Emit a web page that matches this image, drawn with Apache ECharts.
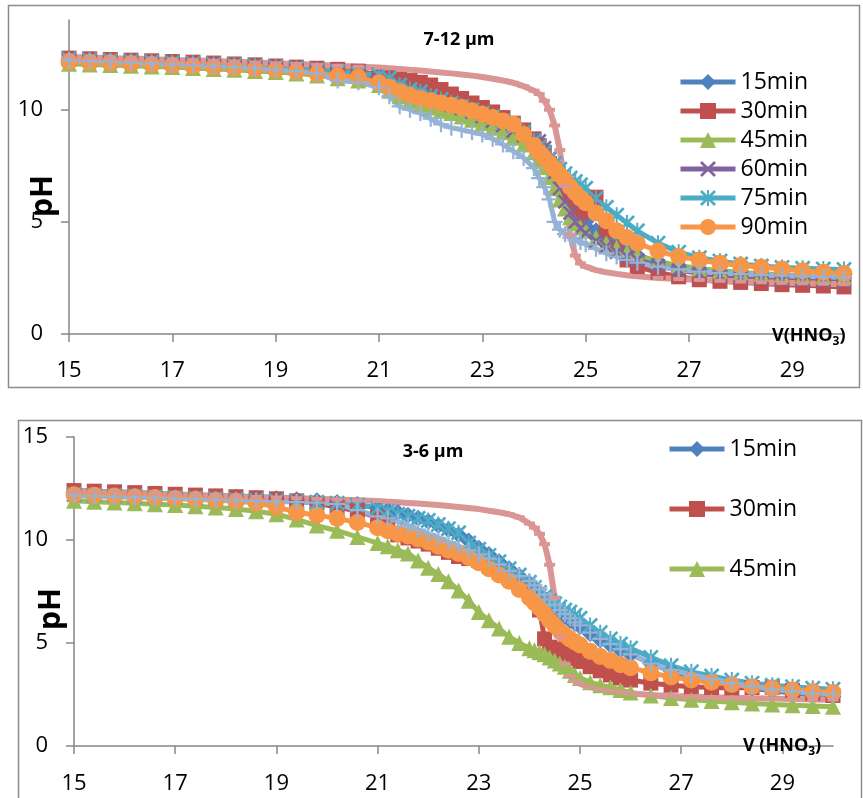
<!DOCTYPE html>
<html>
<head>
<meta charset="utf-8">
<script src="https://cdn.jsdelivr.net/npm/echarts@6.0.0/dist/echarts.min.js"></script>
<style>
  html, body { margin: 0; padding: 0; background: #fff; }
  #chart { width: 863px; height: 798px; }
</style>
</head>
<body>
<div id="chart"></div>
<script>
// Titrant volume (mL HNO3), shared by both panels
const volume = [
  15.0, 15.4, 15.8, 16.2, 16.6, 17.0, 17.4, 17.8, 18.2, 18.6, 19.0, 19.4, 19.8, 20.2, 20.6,
  21.0, 21.2, 21.4, 21.6, 21.8, 22.0, 22.2, 22.4, 22.6, 22.8, 23.0, 23.2, 23.4, 23.6, 23.8, 24.0,
  24.1, 24.2, 24.3, 24.4, 24.5, 24.6, 24.7, 24.8, 24.9, 25.0,
  25.2, 25.4, 25.6, 25.8, 26.0,
  26.4, 26.8, 27.2, 27.6, 28.0, 28.4, 28.8, 29.2, 29.6, 30.0
];

const xTicks = [15, 17, 19, 21, 23, 25, 27, 29];
const yTicksTop = [0, 5, 10];
const yTicksBottom = [0, 5, 10, 15];

// ---- 7-12 µm panel ----
const top15 = [
  12.25, 12.22, 12.19, 12.16, 12.12, 12.08, 12.05, 12.01, 11.97, 11.93, 11.88, 11.83, 11.76, 11.68, 11.60,
  11.45, 11.30, 11.10, 10.95, 10.80, 10.65, 10.50, 10.35, 10.20, 10.05, 9.90, 9.70, 9.50, 9.25, 8.95, 8.55,
  8.30, 8.00, 7.60, 7.15, 6.70, 6.30, 5.90, 5.55, 5.25, 5.00,
  4.60, 4.25, 3.95, 3.70, 3.50,
  3.20, 3.00, 2.87, 2.77, 2.70, 2.64, 2.60, 2.56, 2.53, 2.50
];
const top30 = [
  12.30, 12.27, 12.24, 12.21, 12.18, 12.15, 12.12, 12.08, 12.04, 12.00, 11.95, 11.90, 11.85, 11.80, 11.72,
  11.55, 11.45, 11.35, 11.30, 11.22, 11.10, 10.90, 10.70, 10.50, 10.30, 10.10, 9.90, 9.65, 9.40, 9.10, 8.70,
  8.40, 8.10, 7.60, 7.20, 6.70, 6.20, 5.60, 5.20, 5.40, 5.80,
  6.10, 4.60, 3.80, 3.30, 3.00,
  2.75, 2.55, 2.42, 2.35, 2.30, 2.25, 2.20, 2.17, 2.14, 2.10
];
const top45 = [
  12.05, 12.02, 11.99, 11.96, 11.93, 11.90, 11.86, 11.82, 11.78, 11.73, 11.68, 11.62, 11.52, 11.40, 11.30,
  11.10, 10.85, 10.60, 10.40, 10.25, 10.10, 9.95, 9.85, 9.70, 9.55, 9.40, 9.20, 9.00, 8.75, 8.45, 8.10,
  7.80, 7.45, 7.00, 6.50, 6.00, 5.60, 5.20, 4.95, 4.75, 4.60,
  4.30, 4.05, 3.85, 3.65, 3.50,
  3.25, 3.05, 2.92, 2.82, 2.75, 2.69, 2.64, 2.60, 2.56, 2.53
];
const top60 = [
  12.20, 12.17, 12.14, 12.11, 12.08, 12.05, 12.02, 11.98, 11.94, 11.90, 11.85, 11.80, 11.72, 11.62, 11.55,
  11.40, 11.20, 11.00, 10.80, 10.65, 10.50, 10.35, 10.20, 10.05, 9.90, 9.70, 9.50, 9.30, 9.05, 8.85, 8.70,
  8.60, 8.30, 7.80, 7.20, 6.50, 5.90, 5.40, 5.00, 4.70, 4.50,
  4.15, 3.90, 3.65, 3.45, 3.30,
  3.05, 2.85, 2.70, 2.60, 2.52, 2.46, 2.41, 2.37, 2.33, 2.30
];
const top75 = [
  12.25, 12.22, 12.19, 12.16, 12.13, 12.10, 12.07, 12.03, 11.99, 11.95, 11.90, 11.85, 11.78, 11.70, 11.62,
  11.55, 11.40, 11.10, 10.90, 10.80, 10.60, 10.45, 10.30, 10.15, 10.00, 9.85, 9.70, 9.50, 9.30, 9.00, 8.60,
  8.35, 8.10, 7.85, 7.60, 7.35, 7.15, 6.95, 6.80, 6.65, 6.50,
  6.05, 5.65, 5.30, 4.95, 4.60,
  4.05, 3.65, 3.40, 3.25, 3.12, 3.03, 2.97, 2.93, 2.90, 2.88
];
const top90 = [
  12.15, 12.12, 12.09, 12.06, 12.02, 11.98, 11.95, 11.91, 11.87, 11.82, 11.77, 11.70, 11.60, 11.50, 11.45,
  11.20, 11.00, 10.80, 10.65, 10.50, 10.40, 10.30, 10.20, 10.10, 9.95, 9.80, 9.65, 9.50, 9.35, 8.90, 8.40,
  8.10, 7.85, 7.60, 7.35, 7.10, 6.85, 6.55, 6.30, 6.05, 5.85,
  5.40, 5.05, 4.60, 4.30, 4.05,
  3.70, 3.45, 3.30, 3.15, 3.05, 2.98, 2.90, 2.82, 2.75, 2.70
];
const topSeries7 = [
  12.20, 12.17, 12.14, 12.10, 12.06, 12.02, 11.98, 11.94, 11.90, 11.84, 11.78, 11.72, 11.62, 11.30, 11.22,
  11.00, 10.60, 10.15, 10.00, 9.85, 9.60, 9.35, 9.20, 9.10, 9.00, 8.90, 8.70, 8.45, 8.15, 7.85, 7.40,
  6.95, 6.55, 6.00, 5.00, 4.65, 4.45, 4.30, 4.20, 4.10, 4.00,
  3.80, 3.60, 3.45, 3.30, 3.18,
  3.00, 2.88, 2.78, 2.72, 2.67, 2.63, 2.60, 2.57, 2.55, 2.53
];
const topSeries8 = [
  12.35, 12.33, 12.30, 12.28, 12.25, 12.22, 12.20, 12.17, 12.14, 12.10, 12.07, 12.04, 12.00, 11.96, 11.92,
  11.88, 11.85, 11.82, 11.78, 11.75, 11.70, 11.66, 11.62, 11.57, 11.52, 11.46, 11.38, 11.30, 11.20, 11.05, 10.85,
  10.70, 10.40, 10.00, 9.30, 8.20, 6.60, 4.40, 3.50, 3.15, 3.00,
  2.85, 2.75, 2.68, 2.62, 2.57,
  2.50, 2.45, 2.41, 2.37, 2.34, 2.31, 2.28, 2.26, 2.24, 2.22
];

// ---- 3-6 µm panel ----
const bot15 = [
  12.30, 12.27, 12.24, 12.21, 12.18, 12.15, 12.12, 12.09, 12.06, 12.03, 12.00, 11.95, 11.90, 11.82, 11.72,
  11.55, 11.45, 11.35, 11.20, 11.05, 10.90, 10.70, 10.50, 10.25, 9.95, 9.60, 9.30, 8.95, 8.60, 8.25, 7.90,
  7.65, 7.40, 7.15, 6.90, 6.70, 6.50, 6.30, 6.10, 5.95, 5.80,
  5.45, 5.15, 4.90, 4.65, 4.45,
  4.00, 3.65, 3.35, 3.15, 2.95, 2.80, 2.68, 2.57, 2.48, 2.40
];
const bot30 = [
  12.40, 12.37, 12.34, 12.30, 12.26, 12.22, 12.18, 12.14, 12.10, 12.05, 12.00, 11.90, 11.78, 11.60, 11.40,
  11.10, 10.80, 10.25, 10.10, 9.95, 9.80, 9.60, 9.40, 9.20, 9.10, 9.00, 8.75, 8.45, 8.20, 7.90, 7.50,
  7.20, 6.60, 5.20, 4.80, 4.70, 4.60, 4.50, 4.40, 4.25, 4.10,
  3.85, 3.65, 3.45, 3.30, 3.20,
  3.05, 2.95, 2.88, 2.84, 2.82, 2.84, 2.85, 2.70, 2.55, 2.45
];
const bot45 = [
  11.90, 11.86, 11.82, 11.78, 11.74, 11.70, 11.64, 11.58, 11.50, 11.40, 11.25, 11.00, 10.70, 10.45, 10.15,
  9.85, 9.70, 9.50, 9.35, 9.00, 8.65, 8.35, 8.00, 7.55, 7.05, 6.50, 6.10, 5.70, 5.30, 5.00, 4.75,
  4.65, 4.55, 4.45, 4.30, 4.15, 4.00, 3.85, 3.65, 3.45, 3.30,
  3.10, 2.95, 2.85, 2.72, 2.60,
  2.45, 2.33, 2.25, 2.18, 2.12, 2.06, 2.02, 1.98, 1.94, 1.90
];
const bot75 = [
  12.20, 12.18, 12.15, 12.12, 12.09, 12.06, 12.03, 12.00, 11.97, 11.94, 11.90, 11.87, 11.83, 11.78, 11.70,
  11.55, 11.40, 11.25, 11.15, 11.05, 10.95, 10.75, 10.55, 10.35, 9.85, 9.55, 9.25, 8.95, 8.60, 8.30, 7.95,
  7.70, 7.45, 7.25, 7.05, 6.90, 6.75, 6.60, 6.50, 6.35, 6.20,
  5.85, 5.50, 5.20, 4.95, 4.75,
  4.30, 3.90, 3.60, 3.40, 3.20, 3.05, 2.95, 2.88, 2.80, 2.75
];
const bot90 = [
  12.20, 12.17, 12.13, 12.10, 12.06, 12.02, 11.98, 11.93, 11.88, 11.80, 11.60, 11.35, 11.20, 11.05, 10.85,
  10.60, 10.45, 10.30, 10.20, 10.05, 9.90, 9.70, 9.50, 9.35, 9.15, 8.90, 8.60, 8.30, 8.00, 7.60, 7.20,
  6.95, 6.70, 6.40, 6.10, 5.85, 5.60, 5.40, 5.20, 5.05, 4.90,
  4.60, 4.35, 4.15, 3.95, 3.80,
  3.55, 3.35, 3.20, 3.10, 2.98, 2.88, 2.80, 2.72, 2.65, 2.60
];
const botSeries7 = [
  12.15, 12.13, 12.10, 12.07, 12.04, 12.01, 11.98, 11.95, 11.92, 11.90, 11.87, 11.84, 11.82, 11.75, 11.45,
  11.15, 11.05, 10.90, 10.70, 10.50, 10.30, 10.10, 9.90, 9.70, 9.50, 9.30, 9.10, 8.80, 8.50, 8.25, 8.00,
  7.80, 7.60, 7.35, 7.10, 6.85, 6.60, 6.40, 6.20, 6.00, 5.85,
  5.50, 5.20, 4.95, 4.70, 4.45,
  4.00, 3.70, 3.45, 3.25, 3.05, 2.90, 2.75, 2.65, 2.55, 2.50
];
const botSeries8 = [
  12.35, 12.33, 12.30, 12.27, 12.24, 12.21, 12.18, 12.15, 12.12, 12.09, 12.06, 12.03, 12.00, 11.97, 11.93,
  11.89, 11.86, 11.83, 11.80, 11.77, 11.73, 11.70, 11.65, 11.60, 11.55, 11.50, 11.42, 11.35, 11.25, 11.10, 10.80,
  10.60, 10.30, 9.80, 8.80, 7.20, 5.30, 4.00, 3.40, 3.15, 3.02,
  2.86, 2.75, 2.67, 2.61, 2.55,
  2.48, 2.43, 2.40, 2.37, 2.34, 2.32, 2.30, 2.28, 2.26, 2.25
];

// Marker shapes (filled outlines for x, *, + and - markers)
const SYM_X = 'path://M0,1.2L1.2,0L5,3.8L8.8,0L10,1.2L6.2,5L10,8.8L8.8,10L5,6.2L1.2,10L0,8.8L3.8,5Z';
const SYM_STAR = SYM_X + 'M4.4,0H5.6V10H4.4Z';
const SYM_PLUS = 'path://M4.3,0H5.7V4.3H10V5.7H5.7V10H4.3V5.7H0V4.3H4.3Z';
const SYM_DASH = 'path://M0,0H10V4H0Z';

const FONT = '"Open Sans", "Liberation Sans", sans-serif';

const styles = {
  '15min':   { color: '#4F81BD', symbol: 'diamond',  size: 17, width: 5 },
  '30min':   { color: '#C0504D', symbol: 'rect',     size: 15, width: 5 },
  '45min':   { color: '#9BBB59', symbol: 'triangle', size: 16, width: 5 },
  '60min':   { color: '#8064A2', symbol: SYM_X,      size: 15, width: 5 },
  '75min':   { color: '#4BACC6', symbol: SYM_STAR,   size: 16, width: 5 },
  '90min':   { color: '#F79646', symbol: 'circle',   size: 17, width: 5 },
  'Series7': { color: '#95B3D7', symbol: SYM_PLUS,   size: 16, width: 5 },
  'Series8': { color: '#D99694', symbol: SYM_DASH,   size: [11, 4], width: 6 }
};

function line(name, ys, gridIdx) {
  const s = styles[name];
  return {
    type: 'line',
    name: name,
    xAxisIndex: gridIdx,
    yAxisIndex: gridIdx,
    data: volume.map((v, i) => [v, ys[i]]),
    symbol: s.symbol,
    symbolSize: s.size,
    showSymbol: true,
    clip: false,
    lineStyle: { color: s.color, width: s.width },
    itemStyle: { color: s.color },
    emphasis: { disabled: true },
    animation: false
  };
}

function xAxisCfg(gridIdx, margin) {
  return {
    gridIndex: gridIdx, type: 'value', min: 15, max: 30, interval: 2,
    axisLine: { show: true, onZero: false, lineStyle: { color: '#868686', width: 1.5 } },
    axisTick: { show: true, length: 8, customValues: xTicks, lineStyle: { color: '#868686', width: 1.5 } },
    axisLabel: { customValues: xTicks, margin: margin, fontSize: 22, color: '#000', fontFamily: FONT },
    splitLine: { show: false }
  };
}

function yAxisCfg(gridIdx, max, ticks) {
  return {
    gridIndex: gridIdx, type: 'value', min: 0, max: max, interval: 5,
    axisLine: { show: true, lineStyle: { color: '#868686', width: 1.5 } },
    axisTick: { show: true, length: 8, customValues: ticks, lineStyle: { color: '#868686', width: 1.5 } },
    axisLabel: { customValues: ticks, margin: 26, fontSize: 22, color: '#000', fontFamily: FONT },
    splitLine: { show: false }
  };
}

const legendText = { fontSize: 23, color: '#000', fontFamily: FONT, lineHeight: 24 };

const chart = echarts.init(document.getElementById('chart'), null, { renderer: 'canvas' });
chart.setOption({
  animation: false,
  backgroundColor: '#fff',
  grid: [
    { left: 69, right: 19, top: 20, bottom: 464, outerBoundsMode: 'none', containLabel: false },
    { left: 74, right: 30, top: 437, bottom: 52, outerBoundsMode: 'none', containLabel: false }
  ],
  xAxis: [xAxisCfg(0, 26), xAxisCfg(1, 27)],
  yAxis: [yAxisCfg(0, 14, yTicksTop), yAxisCfg(1, 15, yTicksBottom)],
  legend: [
    {
      data: ['15min', '30min', '45min', '60min', '75min', '90min'],
      orient: 'vertical', left: 678, top: 70, padding: 0,
      itemWidth: 55, itemHeight: 20, itemGap: 5,
      lineStyle: { width: 5 },
      textStyle: legendText, selectedMode: false
    },
    {
      data: ['15min', '30min', '45min'],
      orient: 'vertical', left: 667, top: 437, padding: 0,
      itemWidth: 55, itemHeight: 20, itemGap: 36,
      lineStyle: { width: 5 },
      textStyle: legendText, selectedMode: false
    }
  ],
  series: [
    line('15min', top15, 0),
    line('30min', top30, 0),
    line('45min', top45, 0),
    line('60min', top60, 0),
    line('75min', top75, 0),
    line('90min', top90, 0),
    line('Series7', topSeries7, 0),
    line('Series8', topSeries8, 0),
    line('15min', bot15, 1),
    line('30min', bot30, 1),
    line('45min', bot45, 1),
    line('75min', bot75, 1),
    line('90min', bot90, 1),
    line('Series7', botSeries7, 1),
    line('Series8', botSeries8, 1)
  ],
  graphic: [
    { type: 'rect', z: -1, shape: { x: 8.5, y: 5.5, width: 851, height: 382 },
      style: { fill: 'none', stroke: '#8c8c8c', lineWidth: 1.5 } },
    { type: 'rect', z: -1, shape: { x: 18.5, y: 420.5, width: 843, height: 400 },
      style: { fill: 'none', stroke: '#8c8c8c', lineWidth: 1.5 } },
    { type: 'text', x: 459, y: 40, z: 10,
      style: { text: '7-12 µm', font: 'bold 18px ' + FONT, fill: '#000', align: 'center', verticalAlign: 'middle' } },
    { type: 'text', x: 433, y: 452, z: 10,
      style: { text: '3-6 µm', font: 'bold 18px ' + FONT, fill: '#000', align: 'center', verticalAlign: 'middle' } },
    { type: 'text', x: 43, y: 196, rotation: Math.PI / 2, z: 10,
      style: { text: 'pH', font: 'bold 30px ' + FONT, fill: '#000', align: 'center', verticalAlign: 'middle' } },
    { type: 'text', x: 51, y: 609, rotation: Math.PI / 2, z: 10,
      style: { text: 'pH', font: 'bold 30px ' + FONT, fill: '#000', align: 'center', verticalAlign: 'middle' } },
    { type: 'text', x: 772, y: 336, z: 10,
      style: {
        text: '{a|V(HNO}{b|3}{a|)}', verticalAlign: 'middle', fill: '#000',
        rich: {
          a: { fontSize: 18, fontWeight: 'bold', fontFamily: FONT, lineHeight: 24, verticalAlign: 'middle' },
          b: { fontSize: 12, fontWeight: 'bold', fontFamily: FONT, lineHeight: 10, verticalAlign: 'bottom' }
        }
      } },
    { type: 'text', x: 743, y: 746, z: 10,
      style: {
        text: '{a|V (HNO}{b|3}{a|)}', verticalAlign: 'middle', fill: '#000',
        rich: {
          a: { fontSize: 18, fontWeight: 'bold', fontFamily: FONT, lineHeight: 24, verticalAlign: 'middle' },
          b: { fontSize: 12, fontWeight: 'bold', fontFamily: FONT, lineHeight: 10, verticalAlign: 'bottom' }
        }
      } }
  ]
});
</script>
</body>
</html>
